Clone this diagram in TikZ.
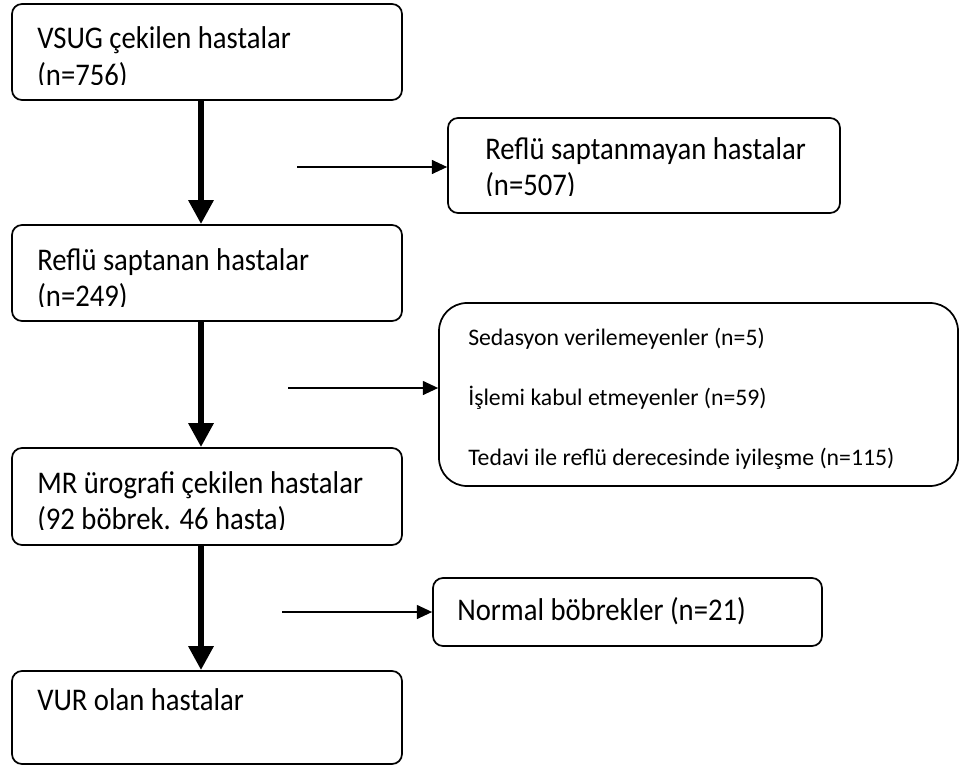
\documentclass[tikz,border=0pt]{standalone}
\usepackage{fontspec}
\usepackage{graphicx}
\setmainfont{Carlito}
\usetikzlibrary{arrows.meta}

\newcommand{\tall}[1]{\scalebox{1}[1.1]{#1}}

\tikzset{
  box/.style={draw, line width=1.3pt, rounded corners=7.5pt, minimum width=292.5pt, inner sep=0pt},
  bigtxt/.style={anchor=base west, inner sep=0pt, font=\fontsize{21.5}{26}\selectfont},
  smalltxt/.style={anchor=base west, inner sep=0pt, font=\fontsize{17.8}{21}\selectfont},
  mainarrow/.style={line width=5.2pt, -{Triangle[width=18pt,length=18pt]}},
  sidearrow/.style={line width=1.1pt, -{Triangle[width=10.5pt,length=11.5pt]}},
}

\begin{document}
\begin{tikzpicture}[x=0.75pt,y=-0.75pt]
  \useasboundingbox (0,0) rectangle (960,767);
  % left column: one pixel of the scan = one unit
  \node[box, minimum height=72pt] (vsug) at (207,52) {};
  \node[box, minimum height=72pt] (reflu) at (207,273) {};
  \node[box, minimum height=72.75pt] (mru) at (207,496.5) {};
  \node[box, minimum height=69.75pt] (vur) at (207,717.5) {};
  % right column
  \node[box, minimum width=294pt, minimum height=71.25pt] (yok) at (644,165.5) {};
  \node[box, rounded corners=21pt, minimum width=389.25pt, minimum height=137.25pt] (cikan) at (698.5,394.5) {};
  \node[box, minimum width=291.75pt, minimum height=51pt] (normal) at (627.5,612) {};

  % texts; second lines are cut off by the box as in the scan
  \node[bigtxt] (vsugA) at (37,49) {\tall{VSUG çekilen hastalar}};
  \begin{scope}
    \clip (14,6) rectangle (400,85);
    \node[bigtxt] (vsugB) at (37,85) {\tall{(n=756)}};
  \end{scope}
  \node[bigtxt] (refluA) at (37,270) {\tall{Reflü saptanan hastalar}};
  \begin{scope}
    \clip (14,227) rectangle (400,306);
    \node[bigtxt] (refluB) at (37,306) {\tall{(n=249)}};
  \end{scope}
  \node[bigtxt] (mruA) at (37,493) {\tall{MR ürografi çekilen hastalar}};
  \begin{scope}
    \clip (14,450) rectangle (400,529);
    \node[bigtxt] (mruB) at (37,529) {\tall{(92 böbrek. 46 hasta)}};
  \end{scope}
  \node[bigtxt] (vurA) at (37,710) {\tall{VUR olan hastalar}};
  \node[bigtxt] (yokA) at (485,159) {\tall{Reflü saptanmayan hastalar}};
  \begin{scope}
    \clip (450,120) rectangle (838,195);
    \node[bigtxt] (yokB) at (485,195) {\tall{(n=507)}};
  \end{scope}
  \node[smalltxt] (cikanA) at (468,345) {Sedasyon verilemeyenler (n=5)};
  \node[smalltxt] (cikanB) at (468,405) {İşlemi kabul etmeyenler (n=59)};
  \node[smalltxt] (cikanC) at (468,465) {Tedavi ile reflü derecesinde iyileşme (n=115)};
  \node[bigtxt] (normalA) at (457,620) {\tall{Normal böbrekler (n=21)}};

  % arrows
  \coordinate (axis) at (201,0);
  \draw[mainarrow] (vsug.south -| axis) -- (reflu.north -| axis);
  \draw[mainarrow] (reflu.south -| axis) -- (mru.north -| axis);
  \draw[mainarrow] (mru.south -| axis) -- (vur.north -| axis);
  \coordinate (s1) at (297,167);
  \coordinate (s2) at (288,388);
  \coordinate (s3) at (282,612);
  \draw[sidearrow] (s1) -- (s1 -| yok.west);
  \draw[sidearrow] (s2) -- (s2 -| cikan.west);
  \draw[sidearrow] (s3) -- (s3 -| normal.west);
\end{tikzpicture}
\end{document}
